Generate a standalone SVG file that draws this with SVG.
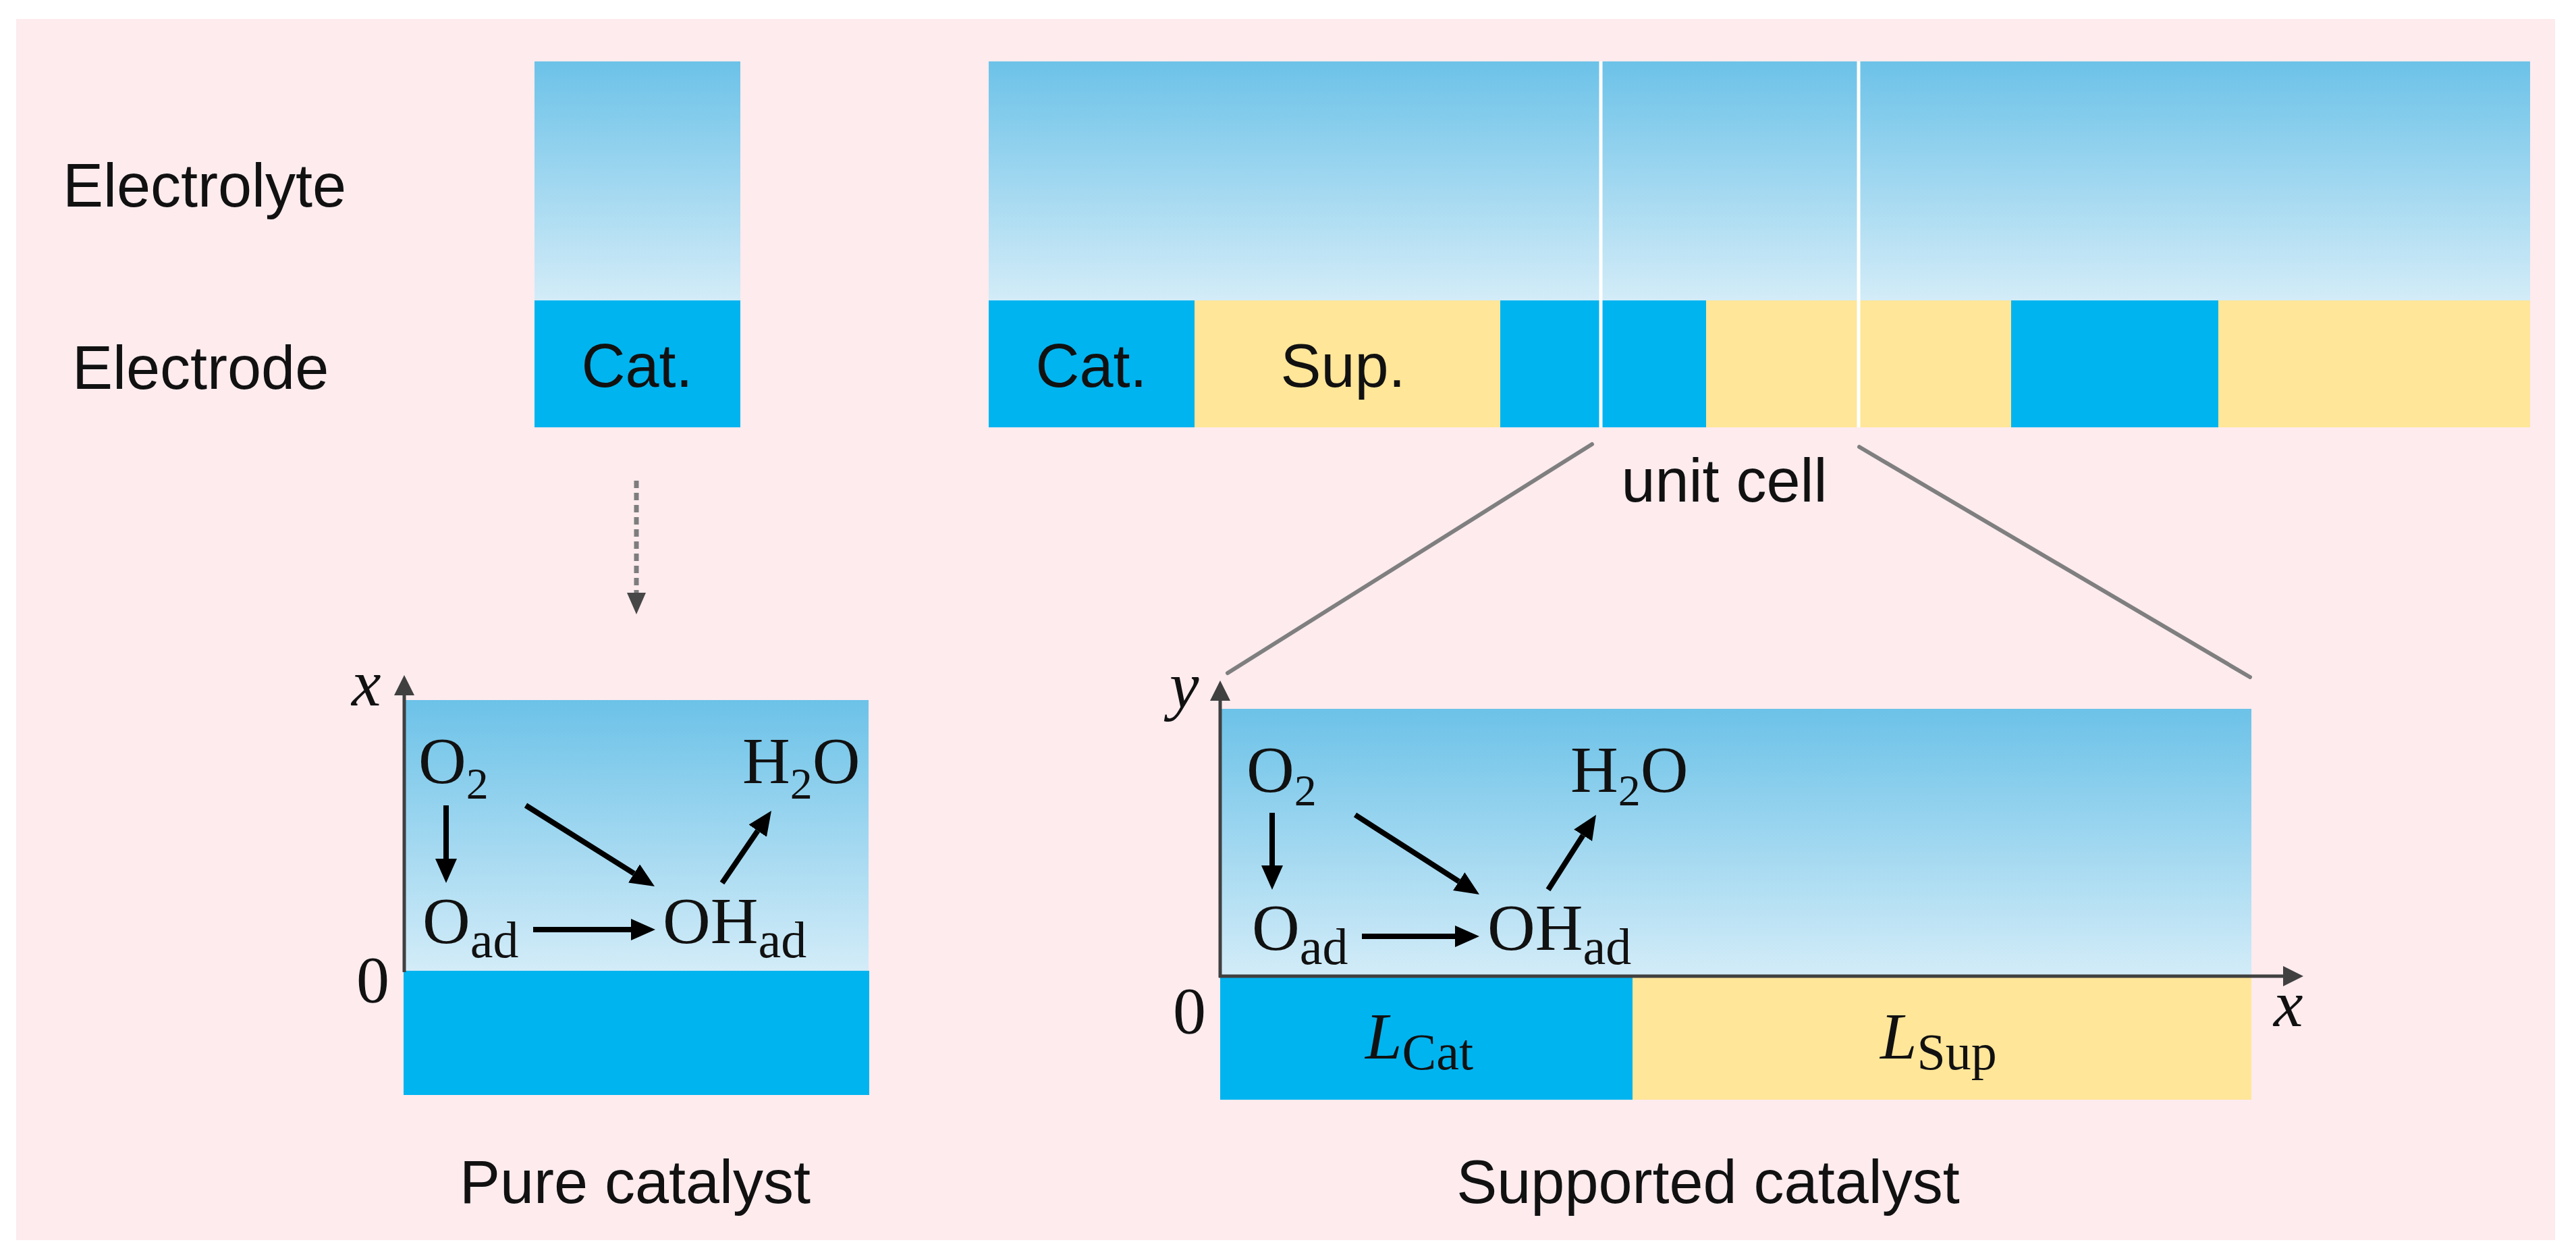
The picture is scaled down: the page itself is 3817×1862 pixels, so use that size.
<svg xmlns="http://www.w3.org/2000/svg" width="3817" height="1862" viewBox="0 0 3817 1862">
<defs>
<linearGradient id="elyte" x1="0" y1="0" x2="0" y2="1">
<stop offset="0" stop-color="#6cc2e8"/>
<stop offset="1" stop-color="#d3ecf8"/>
</linearGradient>
<marker id="ah" markerUnits="userSpaceOnUse" markerWidth="40" markerHeight="34" refX="0" refY="16" orient="auto">
<path d="M0,0 L36,16 L0,32 z" fill="#000"/>
</marker>
<marker id="axh" markerUnits="userSpaceOnUse" markerWidth="34" markerHeight="32" refX="0" refY="15" orient="auto">
<path d="M0,0 L30,15 L0,30 z" fill="#404040"/>
</marker>
<marker id="dh" markerUnits="userSpaceOnUse" markerWidth="34" markerHeight="32" refX="0" refY="14" orient="auto">
<path d="M0,0 L32,14 L0,28 z" fill="#474747"/>
</marker>
</defs>
<style>
.sans{font-family:"Liberation Sans",Arial,sans-serif;font-size:90px;fill:#111}
.math{font-family:"Liberation Serif","Times New Roman",serif;font-size:98px;fill:#111}
.sub{font-size:76px}
.sub2{font-size:66px}
.it{font-style:italic}
.cat{fill:#00b4f0}
.sup{fill:#ffe699}
.ely{fill:url(#elyte)}
.arr{stroke:#000;stroke-width:8;fill:none;marker-end:url(#ah)}
.axis{stroke:#404040;stroke-width:5;fill:none;marker-end:url(#axh)}
.zoom{stroke:#7f7f7f;stroke-width:6;fill:none;stroke-linecap:round}
.wl{stroke:#fff;stroke-width:5}
</style>
<rect x="0" y="0" width="3817" height="1862" fill="#fff"/>
<rect id="background" x="24" y="28" width="3762" height="1809" fill="#fdebee"/>

<g id="labels-left">
<text class="sans" x="93" y="306">Electrolyte</text>
<text class="sans" x="107" y="576">Electrode</text>
</g>

<g id="pure-column">
<rect class="ely" x="792" y="91" width="305" height="354"/>
<rect class="cat" x="792" y="445" width="305" height="188"/>
<text class="sans" x="944" y="573" text-anchor="middle">Cat.</text>
</g>

<g id="supported-strip">
<rect class="ely" x="1465" y="91" width="2284" height="354"/>
<rect class="cat" x="1465" y="445" width="305" height="188"/>
<rect class="sup" x="1770" y="445" width="453" height="188"/>
<rect class="cat" x="2223" y="445" width="305" height="188"/>
<rect class="sup" x="2528" y="445" width="452" height="188"/>
<rect class="cat" x="2980" y="445" width="307" height="188"/>
<rect class="sup" x="3287" y="445" width="462" height="188"/>
<text class="sans" x="1617" y="573" text-anchor="middle">Cat.</text>
<text class="sans" x="1990" y="573" text-anchor="middle">Sup.</text>
<line class="wl" x1="2372" y1="91" x2="2372" y2="633"/>
<line class="wl" x1="2754" y1="91" x2="2754" y2="633"/>
<text class="sans" x="2555" y="743" text-anchor="middle">unit cell</text>
</g>

<g id="connectors">
<line class="zoom" x1="2359" y1="658" x2="1819" y2="997"/>
<line class="zoom" x1="2755" y1="662" x2="3334" y2="1003"/>
<line x1="943" y1="712" x2="943" y2="878" stroke="#7d7d7d" stroke-width="7" stroke-dasharray="11 7" marker-end="url(#dh)"/>
</g>

<g id="pure-panel">
<rect class="ely" x="599" y="1037" width="688" height="401"/>
<rect class="cat" x="598" y="1438" width="690" height="184"/>
<line class="axis" x1="599" y1="1440" x2="599" y2="1030"/>
<text class="math it" x="521" y="1045" font-size="80">x</text>
<text class="math" x="528" y="1484" font-size="58">0</text>
<text class="math" x="620" y="1160">O<tspan class="sub2" y="1183">2</tspan></text>
<text class="math" x="1100" y="1160">H<tspan class="sub2" y="1183">2</tspan><tspan y="1160">O</tspan></text>
<text class="math" x="626" y="1397">O<tspan class="sub" y="1418">ad</tspan></text>
<text class="math" x="982" y="1397">OH<tspan class="sub" y="1418">ad</tspan></text>
<line class="arr" x1="661" y1="1193" x2="661" y2="1272"/>
<line class="arr" x1="779" y1="1193" x2="939.5" y2="1293.9"/>
<line class="arr" x1="1070" y1="1308" x2="1122.7" y2="1230.7"/>
<line class="arr" x1="790" y1="1377" x2="935" y2="1377"/>
<text class="sans" x="941" y="1782" text-anchor="middle">Pure catalyst</text>
</g>

<g id="supported-panel">
<rect class="ely" x="1810" y="1050" width="1526" height="396"/>
<rect class="cat" x="1808" y="1448" width="611" height="181"/>
<rect class="sup" x="2419" y="1448" width="917" height="181"/>
<line class="axis" x1="1808" y1="1448" x2="1808" y2="1038"/>
<line class="axis" x1="1806" y1="1446" x2="3383" y2="1446"/>
<text class="math it" x="1733" y="1048" font-size="80">y</text>
<text class="math it" x="3369" y="1520" font-size="80">x</text>
<text class="math" x="1738" y="1530" font-size="58">0</text>
<text class="math" x="1847" y="1173">O<tspan class="sub2" y="1193">2</tspan></text>
<text class="math" x="2327" y="1173">H<tspan class="sub2" y="1193">2</tspan><tspan y="1173">O</tspan></text>
<text class="math" x="1855" y="1407">O<tspan class="sub" y="1428">ad</tspan></text>
<text class="math" x="2204" y="1407">OH<tspan class="sub" y="1428">ad</tspan></text>
<line class="arr" x1="1885" y1="1204" x2="1885" y2="1282"/>
<line class="arr" x1="2008" y1="1207" x2="2161.7" y2="1305.6"/>
<line class="arr" x1="2294" y1="1318" x2="2345.6" y2="1237.3"/>
<line class="arr" x1="2018" y1="1387" x2="2156" y2="1387"/>
<text class="math" x="2023" y="1568"><tspan class="it">L</tspan><tspan class="sub" y="1584">Cat</tspan></text>
<text class="math" x="2786" y="1568"><tspan class="it">L</tspan><tspan class="sub" y="1584">Sup</tspan></text>
<text class="sans" x="2531" y="1782" text-anchor="middle">Supported catalyst</text>
</g>
</svg>
